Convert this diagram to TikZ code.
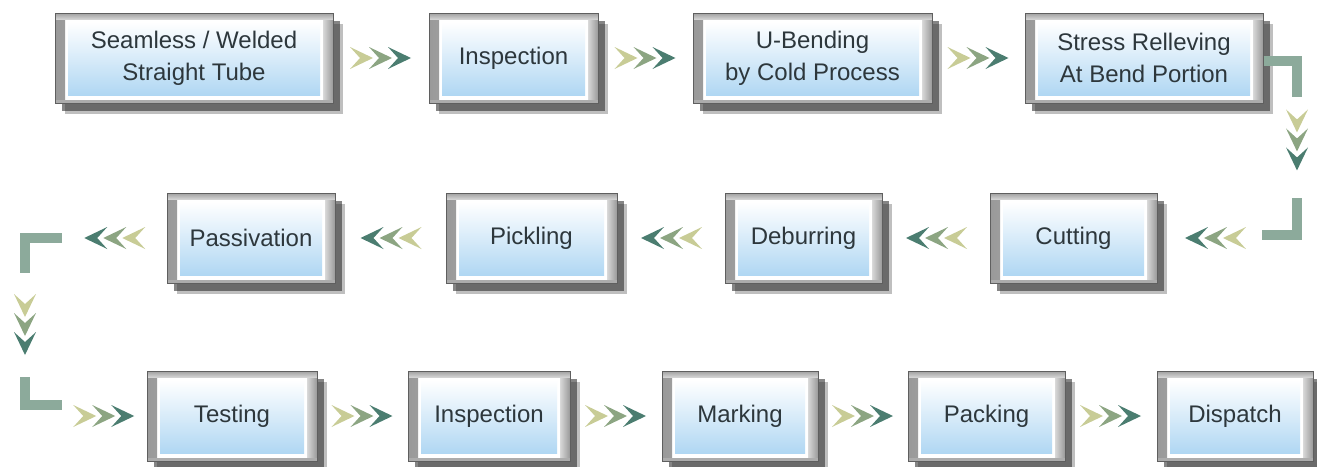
\documentclass[tikz,border=0pt]{standalone}
\usepackage{fontspec}
\setmainfont{Liberation Sans}
\usetikzlibrary{shadows,calc}

\definecolor{framegray}{RGB}{95,95,95}
\definecolor{paleblue}{RGB}{176,215,243}
\definecolor{inktext}{RGB}{45,55,60}
\definecolor{chevlight}{RGB}{200,204,150}
\definecolor{chevmid}{RGB}{140,165,130}
\definecolor{chevdark}{RGB}{75,125,112}
\definecolor{bracketgreen}{RGB}{140,170,155}

\tikzset{
  procbox/.style={rectangle, draw=framegray, line width=1pt, fill=white,
    minimum height=90pt, inner sep=0pt, text=inktext, align=center,
    font=\fontsize{24}{32}\selectfont,
    drop shadow={shadow xshift=10pt, shadow yshift=-11pt, fill=black, opacity=0.25},
    drop shadow={shadow xshift=7pt, shadow yshift=-8pt, fill=black!80, opacity=0.6},
    path picture={
      \shade[left color=gray!80, right color=gray!30] (path picture bounding box.north west)
        rectangle ([xshift=10pt]path picture bounding box.south west);
      \shade[left color=gray!30, right color=gray!80] ([xshift=-10pt]path picture bounding box.north east)
        rectangle (path picture bounding box.south east);
      \shade[top color=gray!75, bottom color=gray!35] (path picture bounding box.north west)
        rectangle ([yshift=-6pt]path picture bounding box.north east);
      \fill[gray!65] ([yshift=3pt]path picture bounding box.south west)
        rectangle (path picture bounding box.south east);
      \shade[top color=white, bottom color=paleblue]
        ([xshift=13pt,yshift=-9pt]path picture bounding box.north west)
        rectangle ([xshift=-13pt,yshift=8pt]path picture bounding box.south east);
    }},
  bracket/.style={draw=bracketgreen, line width=10pt},
  chevrons/.pic={
    \fill[chevlight] (-31,-11) -- (-8,0) -- (-31,11) -- (-21,0) -- cycle;
    \fill[chevmid] (-12,-11) -- (11,0) -- (-12,11) -- (-2,0) -- cycle;
    \fill[chevdark] (7,-11) -- (30,0) -- (7,11) -- (17,0) -- cycle;
  }
}

\begin{document}
\begin{tikzpicture}[x=1pt, y=-1pt]
    \useasboundingbox (0,0) rectangle (1317,466);
    % top row
    \node[procbox, minimum width=278pt] (seam) at (194,58) {Seamless / Welded\\Straight Tube};
    \node[procbox, minimum width=169pt] (insp1) at (513.5,58) {Inspection};
    \node[procbox, minimum width=239pt] (bend) at (812.5,58) {U-Bending\\by Cold Process};
    \node[procbox, minimum width=238pt] (stress) at (1144,58) {Stress Relleving\\At Bend Portion};
    % middle row
    \node[procbox, minimum width=167pt] (cut) at (1073.5,238) {Cutting};
    \node[procbox, minimum width=157pt] (debur) at (803.5,238) {Deburring};
    \node[procbox, minimum width=171pt] (pickl) at (531.5,238) {Pickling};
    \node[procbox, minimum width=168pt] (passiv) at (251,238) {Passivation};
    % bottom row
    \node[procbox, minimum width=170pt] (test) at (232,416) {Testing};
    \node[procbox, minimum width=162pt] (insp2) at (489,416) {Inspection};
    \node[procbox, minimum width=156pt] (mark) at (740,416) {Marking};
    \node[procbox, minimum width=157pt] (pack) at (986.5,416) {Packing};
    \node[procbox, minimum width=156pt] (disp) at (1235,416) {Dispatch};

    % turns at the ends of the rows
    \coordinate (rtop) at (1297,97);
    \coordinate (rbot) at (1297,198);
    \coordinate (rend) at (1262,235);
    \coordinate (lstart) at (62,238);
    \coordinate (ltop) at (25,273);
    \coordinate (lbot) at (25,377);
    \coordinate (lend) at (62,405);
    \draw[bracket] ([yshift=-3pt]stress.east) -| (rtop);
    \draw[bracket] (rbot) |- (rend);
    \draw[bracket] (lstart) -| (ltop);
    \draw[bracket] (lbot) |- (lend);

    % chevron arrows
    \pic at ($(seam.east)!0.5!(insp1.west)$) {chevrons};
    \pic at ($(insp1.east)!0.5!(bend.west)$) {chevrons};
    \pic at ($(bend.east)!0.5!(stress.west)$) {chevrons};
    \pic[rotate=-90] at ($(rtop)!0.43!(rbot)$) {chevrons};
    \pic[rotate=180] at ($(cut.east)!0.55!(cut.east -| rend)$) {chevrons};
    \pic[rotate=180] at ($(debur.east)!0.5!(cut.west)$) {chevrons};
    \pic[rotate=180] at ($(pickl.east)!0.5!(debur.west)$) {chevrons};
    \pic[rotate=180] at ($(passiv.east)!0.5!(pickl.west)$) {chevrons};
    \pic[rotate=180] at ($(passiv.west)!0.5!(lstart)$) {chevrons};
    \pic[rotate=-90] at ($(ltop)!0.5!(lbot)$) {chevrons};
    \pic at ($(test.west)!0.5!(test.west -| lend)$) {chevrons};
    \pic at ($(test.east)!0.5!(insp2.west)$) {chevrons};
    \pic at ($(insp2.east)!0.5!(mark.west)$) {chevrons};
    \pic at ($(mark.east)!0.5!(pack.west)$) {chevrons};
    \pic at ($(pack.east)!0.5!(disp.west)$) {chevrons};
\end{tikzpicture}
\end{document}
